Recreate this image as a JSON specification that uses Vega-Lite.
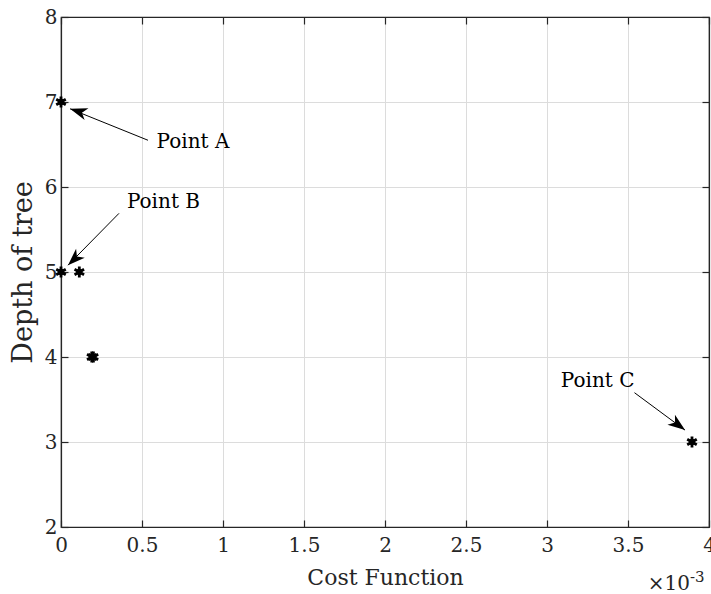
{
  "$schema": "https://vega.github.io/schema/vega-lite/v6.json",
  "autosize": "none",
  "width": 648,
  "height": 510,
  "padding": {"left": 61, "top": 17, "right": 2, "bottom": 67},
  "background": "white",
  "config": {
    "font": "DejaVu Serif",
    "view": {"stroke": "#262626", "strokeWidth": 1.2},
    "text": {"font": "DejaVu Serif"},
    "axis": {
      "labelFont": "DejaVu Serif",
      "titleFont": "DejaVu Serif",
      "labelFontSize": 20,
      "titleFontSize": 22,
      "titleFontWeight": "normal",
      "labelColor": "#262626",
      "titleColor": "#262626",
      "domainColor": "#262626",
      "domainWidth": 1.2,
      "tickColor": "#262626",
      "tickWidth": 1.2,
      "tickSize": -7,
      "labelFlush": false,
      "gridColor": "#dcdcdc",
      "gridWidth": 1
    }
  },
  "datasets": {
    "points": [
      {"cost": 0, "depth": 7},
      {"cost": 0, "depth": 5},
      {"cost": 0.000113, "depth": 5},
      {"cost": 0.00019, "depth": 4},
      {"cost": 0.0002, "depth": 4},
      {"cost": 0.003895, "depth": 3}
    ],
    "notes": [
      {"label": "Point A", "x1": 0.000537, "y1": 6.55, "x2": 0.000056, "y2": 6.92, "tx": 0.00059, "ty": 6.53},
      {"label": "Point B", "x1": 0.000358, "y1": 5.69, "x2": 0.000043, "y2": 5.08, "tx": 0.000407, "ty": 5.82},
      {"label": "Point C", "x1": 0.00354, "y1": 3.58, "x2": 0.003852, "y2": 3.14, "tx": 0.00354, "ty": 3.72}
    ]
  },
  "layer": [
    {
      "layer": [
        {
          "data": {"name": "points"},
          "mark": {"type": "point", "shape": "M0,-1L0,1M-0.87,-0.5L0.87,0.5M-0.87,0.5L0.87,-0.5", "filled": false, "stroke": "black", "strokeWidth": 2.8, "size": 120, "opacity": 1},
          "encoding": {
            "x": {"field": "cost", "type": "quantitative", "scale": {"domain": [0, 0.004], "nice": false},
                  "axis": {"orient": "bottom", "values": [0, 0.0005, 0.001, 0.0015, 0.002, 0.0025, 0.003, 0.0035, 0.004], "labelExpr": "format(datum.value*1000, '.2~f')", "labelPadding": 15, "title": "Cost Function", "titleFontSize": 22, "titlePadding": 12, "grid": true}},
            "y": {"field": "depth", "type": "quantitative", "scale": {"domain": [2, 8], "nice": false},
                  "axis": {"orient": "left", "values": [2, 3, 4, 5, 6, 7, 8], "format": "d", "labelPadding": 11, "title": "Depth of tree", "titleFontSize": 27, "titlePadding": 7, "grid": true}}
          }
        },
        {
          "data": {"name": "points"},
          "mark": {"type": "point", "shape": "circle", "filled": true, "color": "black", "size": 40, "opacity": 1},
          "encoding": {
            "x": {"field": "cost", "type": "quantitative"},
            "y": {"field": "depth", "type": "quantitative"}
          }
        },
        {
          "data": {"name": "notes"},
          "mark": {"type": "rule", "color": "black", "strokeWidth": 1},
          "encoding": {
            "x": {"field": "x1", "type": "quantitative"},
            "y": {"field": "y1", "type": "quantitative"},
            "x2": {"field": "x2"},
            "y2": {"field": "y2"}
          }
        },
        {
          "data": {"name": "notes"},
          "transform": [{"filter": "datum.label === 'Point A'"}],
          "mark": {"type": "point", "shape": "M0,0L0.36,1L0,0.72L-0.36,1Z", "filled": true, "color": "black", "size": 1200, "angle": 288, "opacity": 1},
          "encoding": {
            "x": {"field": "x2", "type": "quantitative"},
            "y": {"field": "y2", "type": "quantitative"}
          }
        },
        {
          "data": {"name": "notes"},
          "transform": [{"filter": "datum.label === 'Point B'"}],
          "mark": {"type": "point", "shape": "M0,0L0.36,1L0,0.72L-0.36,1Z", "filled": true, "color": "black", "size": 1200, "angle": 226, "opacity": 1},
          "encoding": {
            "x": {"field": "x2", "type": "quantitative"},
            "y": {"field": "y2", "type": "quantitative"}
          }
        },
        {
          "data": {"name": "notes"},
          "transform": [{"filter": "datum.label === 'Point C'"}],
          "mark": {"type": "point", "shape": "M0,0L0.36,1L0,0.72L-0.36,1Z", "filled": true, "color": "black", "size": 1200, "angle": 127, "opacity": 1},
          "encoding": {
            "x": {"field": "x2", "type": "quantitative"},
            "y": {"field": "y2", "type": "quantitative"}
          }
        },
        {
          "data": {"name": "notes"},
          "transform": [{"filter": "datum.label !== 'Point C'"}],
          "mark": {"type": "text", "align": "left", "baseline": "middle", "fontSize": 20, "font": "DejaVu Serif", "color": "black"},
          "encoding": {
            "x": {"field": "tx", "type": "quantitative"},
            "y": {"field": "ty", "type": "quantitative"},
            "text": {"field": "label"}
          }
        },
        {
          "data": {"name": "notes"},
          "transform": [{"filter": "datum.label === 'Point C'"}],
          "mark": {"type": "text", "align": "right", "baseline": "middle", "fontSize": 20, "font": "DejaVu Serif", "color": "black"},
          "encoding": {
            "x": {"field": "tx", "type": "quantitative"},
            "y": {"field": "ty", "type": "quantitative"},
            "text": {"field": "label"}
          }
        },
        {
          "data": {"values": [{"t": "×10"}]},
          "mark": {"type": "text", "align": "right", "baseline": "alphabetic", "fontSize": 20, "font": "DejaVu Serif", "color": "#262626", "dy": 63, "dx": -19},
          "encoding": {
            "x": {"datum": 0.004, "type": "quantitative"},
            "y": {"datum": 2, "type": "quantitative"},
            "text": {"field": "t"}
          }
        },
        {
          "data": {"values": [{"t": "-3"}]},
          "mark": {"type": "text", "align": "left", "baseline": "alphabetic", "fontSize": 15, "font": "DejaVu Serif", "color": "#262626", "dy": 55, "dx": -19},
          "encoding": {
            "x": {"datum": 0.004, "type": "quantitative"},
            "y": {"datum": 2, "type": "quantitative"},
            "text": {"field": "t"}
          }
        }
      ]
    },
    {
      "data": {"name": "points"},
      "mark": {"type": "point", "opacity": 0},
      "encoding": {
        "x": {"field": "cost", "type": "quantitative", "scale": {"domain": [0, 0.004], "nice": false},
              "axis": {"orient": "top", "values": [0, 0.0005, 0.001, 0.0015, 0.002, 0.0025, 0.003, 0.0035, 0.004], "labels": false, "title": null, "grid": false}},
        "y": {"field": "depth", "type": "quantitative", "scale": {"domain": [2, 8], "nice": false},
              "axis": {"orient": "right", "values": [2, 3, 4, 5, 6, 7, 8], "labels": false, "title": null, "grid": false}}
      }
    }
  ],
  "resolve": {"axis": {"x": "independent", "y": "independent"}}
}
